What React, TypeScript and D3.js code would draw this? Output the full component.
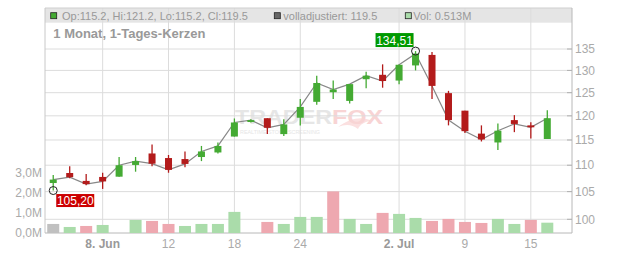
import React from "react";
import * as d3 from "d3";

const dates = [
  "2020-06-03","2020-06-04","2020-06-05","2020-06-08","2020-06-09","2020-06-10","2020-06-11","2020-06-12",
  "2020-06-15","2020-06-16","2020-06-17","2020-06-18","2020-06-19","2020-06-22","2020-06-23","2020-06-24",
  "2020-06-25","2020-06-26","2020-06-29","2020-06-30","2020-07-01","2020-07-02","2020-07-06","2020-07-07",
  "2020-07-08","2020-07-09","2020-07-10","2020-07-13","2020-07-14","2020-07-15","2020-07-16",
];
const open = [106.6,108.5,107.0,107.75,107.8,110.05,112.3,111.4,111.2,111.6,112.5,115.7,118.7,119.5,116.2,119.6,123.0,125.1,123.2,128.0,129.0,127.7,131.15,133.6,124.9,121.1,116.3,114.5,119.1,118.0,115.2];
const high = [108.1,109.8,108.3,108.55,111.6,111.6,114.1,112.0,112.7,113.8,114.5,119.45,119.3,119.5,119.3,123.6,128.8,127.7,126.9,129.7,131.4,131.3,134.51,134.3,125.4,121.1,118.0,118.4,120.15,118.65,121.2];
const low = [105.2,107.5,106.2,105.5,107.8,108.75,109.8,108.55,109.6,110.8,112.3,115.7,118.6,116.2,115.8,118.0,122.35,123.6,122.65,126.0,126.1,126.85,130.0,123.6,118.0,116.4,114.7,113.0,116.6,115.3,115.2];
const close = [107.25,107.7,106.4,106.9,110.0,110.8,110.3,109.1,110.25,112.7,113.8,118.6,119.1,117.5,118.2,121.9,127.15,125.7,126.9,128.8,127.6,131.3,133.9,126.5,119.1,116.8,115.1,116.9,118.3,117.6,119.5];
const volume: (number | null)[] = [0.45,0.30,0.35,0.40,null,0.65,0.60,0.45,0.35,0.45,0.45,1.05,null,0.55,0.45,0.80,0.80,2.07,0.70,0.45,1.00,0.95,0.75,0.60,0.70,0.55,0.50,0.70,0.45,0.65,0.513];

const tickDates = ["2020-06-08","2020-06-12","2020-06-18","2020-06-24","2020-07-02","2020-07-09","2020-07-15"];
const tickLabels = ["8. Jun","12","18","24","2. Jul","9","15"];
const tickBold = [true,false,false,false,true,false,false];
const priceTicks = [100,105,110,115,120,125,130,135];
const volTicks = [0,1,2,3];

const FONT = "'Liberation Sans', Arial, sans-serif";
const W = 632, H = 253;
const L = 45, R = 572, T = 8, B = 233;

export default function App() {
  const x = d3.scaleLinear().domain([-0.5, 31.5]).range([L, R]);
  const y = d3.scaleLog().domain([100, 135]).range([219.3, 49]);
  const yv = d3.scaleLinear().domain([0, 3]).range([B, 172.7]);
  const fmt = (v: number) => d3.format(".2f")(v).replace(".", ",");
  const volFmt = (v: number) => d3.format(".1f")(v).replace(".", ",") + "M";

  const up = "#44aa33", down = "#b31b1b";
  const volUp = "#aadcaa", volDown = "#eea8b0", volNeutral = "#c0c0c0";

  const line = d3.line<number>().x((_, i) => x(i)).y((c) => y(c));
  const maxI = d3.maxIndex(high);
  const minI = d3.minIndex(low);
  const n = dates.length;
  const last = n - 1;

  return (
    <svg width={W} height={H} style={{ position: "absolute", left: 0, top: 0 }} fontFamily={FONT}>
      <rect x={0} y={0} width={W} height={H} fill="#fff" />
      {/* legend band */}
      <rect x={L} y={T} width={R - L} height={14.7} fill="#e5e5e5" />
      {/* watermark */}
      <g>
        <path d="M338,127 C350,118 362,116 372,121 C366,121 360,124 358,129 C352,124 345,124 338,127 Z" fill="#fbe0e0" />
        <text x={235} y={124} fontSize={21} fontWeight="bold" fill="#e6e6e6" textLength={97} lengthAdjust="spacingAndGlyphs">TRADER</text>
        <text x={332} y={124} fontSize={21} fontWeight="bold" fill="#f8d4d4" textLength={51} lengthAdjust="spacingAndGlyphs">FOX</text>
        <text x={240} y={134} fontSize={5.5} fill="#e6e6e6" textLength={80} lengthAdjust="spacingAndGlyphs">REALTIME STOCK SCREENING</text>
      </g>
      {/* grid */}
      {priceTicks.map((p) => (
        <line key={"gy" + p} x1={L} x2={R} y1={y(p)} y2={y(p)} stroke="#dcdcdc" strokeWidth={1} />
      ))}
      {tickDates.map((d) => {
        const i = dates.indexOf(d);
        return <line key={"gx" + d} x1={x(i)} x2={x(i)} y1={T} y2={B} stroke="#dcdcdc" strokeWidth={1} />;
      })}
      <line x1={L} x2={R} y1={T} y2={T} stroke="#cfcfcf" />
      {/* axes */}
      <line x1={L} x2={L} y1={T} y2={B} stroke="#c8c8c8" />
      <line x1={R} x2={R} y1={T} y2={B} stroke="#b8b8b8" />
      <line x1={L} x2={R} y1={B} y2={B} stroke="#b8b8b8" />
      {priceTicks.map((p) => (
        <g key={"pt" + p}>
          <line x1={R - 5} x2={R} y1={y(p)} y2={y(p)} stroke="#b0b0b0" />
          <text x={575} y={y(p)} dy="0.35em" fontSize={12} fill="#aaa">{p}</text>
        </g>
      ))}
      {volTicks.map((v) => (
        <text key={"vt" + v} x={42} y={yv(v)} dy="0.35em" fontSize={12} fill="#aaa" textAnchor="end">{volFmt(v)}</text>
      ))}
      {tickDates.map((d, k) => {
        const i = dates.indexOf(d);
        return (
          <text key={"xl" + d} x={x(i)} y={247.5} fontSize={12} fill={tickBold[k] ? "#999" : "#aaa"} fontWeight={tickBold[k] ? "bold" : "normal"} textAnchor="middle">{tickLabels[k]}</text>
        );
      })}
      {/* volume */}
      {volume.map((v, i) => {
        if (v == null) return null;
        const col = i === 0 ? volNeutral : close[i] >= close[i - 1] ? volUp : volDown;
        return <rect key={"v" + i} x={x(i) - 6} y={yv(v)} width={12} height={B - yv(v)} fill={col} />;
      })}
      {/* close line */}
      <path d={line(close) || ""} fill="none" stroke="#888" strokeWidth={1.2} />
      {/* candles */}
      {dates.map((_, i) => {
        const isUp = close[i] >= open[i];
        const col = isUp ? up : down;
        const top = y(Math.max(open[i], close[i]));
        const bot = y(Math.min(open[i], close[i]));
        return (
          <g key={"c" + i}>
            <line x1={x(i)} x2={x(i)} y1={y(high[i])} y2={y(low[i])} stroke={col} strokeWidth={1.3} />
            <rect x={x(i) - 3.5} y={top} width={7} height={Math.max(1.5, bot - top)} fill={col} />
          </g>
        );
      })}
      {/* min marker */}
      <circle cx={x(minI)} cy={y(low[minI])} r={4} fill="none" stroke="#222" strokeWidth={1} />
      <rect x={x(minI) + 3} y={y(low[minI]) + 3.5} width={38} height={13} fill="#cc0000" />
      <text x={x(minI) + 22} y={y(low[minI]) + 14} fontSize={12} fill="#fff" textAnchor="middle">{fmt(low[minI])}</text>
      {/* max marker */}
      <circle cx={x(maxI)} cy={y(high[maxI])} r={4} fill="none" stroke="#222" strokeWidth={1} />
      <rect x={x(maxI) - 40} y={y(high[maxI]) - 18} width={38} height={14} fill="#009900" />
      <text x={x(maxI) - 21} y={y(high[maxI]) - 6.5} fontSize={12} fill="#fff" textAnchor="middle">{fmt(high[maxI])}</text>
      {/* legend */}
      <rect x={50.7} y={12.7} width={6} height={6} fill={up} stroke="#222" strokeWidth={0.8} />
      <text x={62} y={19.5} fontSize={11} fill="#999">{`Op:${open[last]}, Hi:${high[last]}, Lo:${low[last]}, Cl:${close[last]}`}</text>
      <rect x={274.3} y={12.7} width={6} height={6} fill="#666" stroke="#222" strokeWidth={0.8} />
      <text x={283.3} y={19.5} fontSize={11} fill="#999">{`volladjustiert: ${close[last]}`}</text>
      <rect x={405.3} y={12.7} width={6} height={6} fill={volUp} stroke="#222" strokeWidth={0.8} />
      <text x={413.3} y={19.5} fontSize={11} fill="#999">{`Vol: ${volume[last]}M`}</text>
      <text x={53.3} y={37.7} fontSize={13} fontWeight="bold" fill="#999">1 Monat, 1-Tages-Kerzen</text>
    </svg>
  );
}
